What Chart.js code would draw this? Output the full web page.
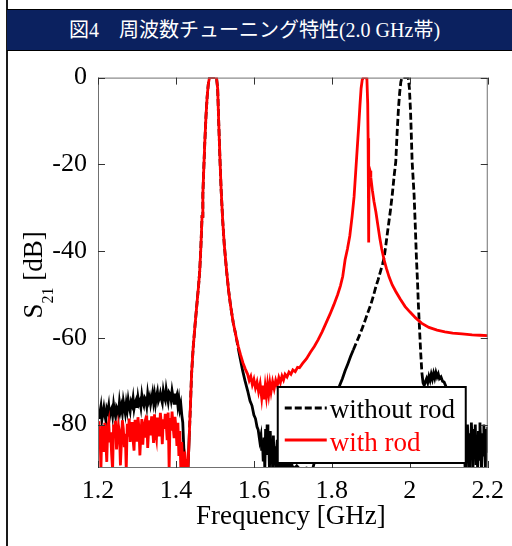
<!DOCTYPE html>
<html lang="ja">
<head>
<meta charset="UTF-8">
<title>図4 周波数チューニング特性</title>
<script src="https://cdn.jsdelivr.net/npm/chart.js"></script>
<style>
    body {
        margin: 0;
        width: 512px;
        height: 546px;
        overflow: hidden;
        background: #fff;
        position: relative;
    }
    #leftRule {
        position: absolute;
        left: 6px;
        top: 0;
        width: 2px;
        height: 546px;
        background: #1a1a1a;
    }
    #head {
        position: absolute;
        left: 7px;
        top: 9px;
        width: 495px;
        padding-right: 10px;
        height: 40px;
        line-height: 40px;
        background: #0b215f;
        border-top: 1px solid #000;
        border-bottom: 1px solid #000;
        color: #fff;
        text-align: center;
        font-size: 20px;
        font-family: "Liberation Serif", "Noto Sans CJK JP", serif;
        white-space: nowrap;
    }
    #chart {
        position: absolute;
        left: 9px;
        top: 51px;
    }
</style>
</head>
<body>
<div id="leftRule"></div>
<div id="head">図4　周波数チューニング特性(2.0 GHz帯)</div>
<canvas id="chart" width="503" height="495"></canvas>

<script>
// axis ticks
const xTicks = [1.2, 1.4, 1.6, 1.8, 2, 2.2];
const yTicks = [0, -20, -40, -60, -80];

// S21 without rod (black, dashed) - frequency [GHz]
const freqWithout = [
    1.2000, 1.2025, 1.2050, 1.2075, 1.2100, 1.2125, 1.2150, 1.2175, 1.2200, 1.2225,
    1.2250, 1.2275, 1.2300, 1.2325, 1.2350, 1.2375, 1.2400, 1.2425, 1.2450, 1.2475,
    1.2500, 1.2525, 1.2550, 1.2575, 1.2600, 1.2625, 1.2650, 1.2675, 1.2700, 1.2725,
    1.2750, 1.2775, 1.2800, 1.2825, 1.2850, 1.2875, 1.2900, 1.2925, 1.2950, 1.2975,
    1.3000, 1.3025, 1.3050, 1.3075, 1.3100, 1.3125, 1.3150, 1.3175, 1.3200, 1.3225,
    1.3250, 1.3275, 1.3300, 1.3325, 1.3350, 1.3375, 1.3400, 1.3425, 1.3450, 1.3475,
    1.3500, 1.3525, 1.3550, 1.3575, 1.3600, 1.3625, 1.3650, 1.3675, 1.3700, 1.3725,
    1.3750, 1.3775, 1.3800, 1.3825, 1.3850, 1.3875, 1.3900, 1.3925, 1.3950, 1.3975,
    1.4000, 1.4025, 1.4050, 1.4075, 1.4100, 1.4125, 1.4150,
    1.4175, 1.4200, 1.4225, 1.4250, 1.4280, 1.4310,
    1.4340, 1.4370, 1.4400, 1.4440, 1.4490, 1.4540, 1.4580, 1.4610, 1.4640, 1.4670,
    1.4690, 1.4710, 1.4740, 1.4770, 1.4800, 1.4830, 1.4860, 1.5040, 1.5070, 1.5100,
    1.5130, 1.5160, 1.5200, 1.5240, 1.5270, 1.5300, 1.5350, 1.5400, 1.5470, 1.5550,
    1.5600, 1.5650, 1.5710, 1.5770, 1.5840, 1.5900, 1.5950, 1.6000, 1.6040, 1.6080,
    1.6110, 1.6150,
    1.618, 1.620, 1.622, 1.624, 1.626, 1.628, 1.630, 1.632, 1.634, 1.636,
    1.638, 1.640, 1.642, 1.644, 1.646, 1.648, 1.650, 1.652, 1.654, 1.656,
    1.658, 1.660, 1.662, 1.664, 1.666, 1.668, 1.670, 1.672, 1.674, 1.676,
    1.678, 1.680, 1.682, 1.684, 1.686, 1.688, 1.690, 1.692, 1.694, 1.696,
    1.698, 1.700,
    1.7100, 1.7200, 1.7350, 1.7500, 1.7600, 1.7700, 1.7800, 1.7900, 1.7960, 1.8020,
    1.8080, 1.8140, 1.8200, 1.8270, 1.8340, 1.8410, 1.8480, 1.8550, 1.8620, 1.8700,
    1.8780, 1.8860, 1.8930, 1.9000, 1.9070, 1.9130, 1.9190, 1.9250, 1.9300, 1.9340,
    1.9380, 1.9420, 1.9460, 1.9500, 1.9550, 1.9600, 1.9640, 1.9660, 1.9680, 1.9710,
    1.9740, 1.9770, 1.9800, 1.9960, 1.9990, 2.0020, 2.0040, 2.0060, 2.0110, 2.0140,
    2.0170, 2.0200, 2.0220, 2.0250, 2.0280, 2.0310, 2.0340, 2.0370, 2.0400, 2.0430,
    2.0460, 2.0490, 2.0520, 2.0550, 2.0580, 2.0610, 2.0640, 2.0670, 2.0700, 2.0730,
    2.0760, 2.0800, 2.0840, 2.0880, 2.0920, 2.0960, 2.1000, 2.1080, 2.1160, 2.1240,
    2.1320,
    2.140, 2.142, 2.144, 2.146, 2.148, 2.150, 2.152, 2.154, 2.156, 2.158,
    2.160, 2.162, 2.164, 2.166, 2.168, 2.170, 2.172, 2.174, 2.176, 2.178,
    2.180, 2.182, 2.184, 2.186, 2.188, 2.190, 2.192, 2.194, 2.196, 2.198,
    2.200
];
// S21 without rod [dB]
const s21Without = [
    -78.4, -76.9, -77.2, -75.8, -78.9, -77.5, -76.1, -77.8, -79.0, -76.3,
    -77.0, -75.6, -78.1, -76.7, -76.2, -77.9, -75.4, -77.1, -78.2, -75.9,
    -76.4, -77.6, -74.9, -76.8, -75.7, -77.3, -74.6, -76.0, -77.4, -75.1,
    -76.6, -74.3, -75.8, -76.9, -74.8, -75.5, -73.9, -76.3, -75.0, -74.4,
    -76.1, -73.7, -75.2, -74.6, -76.0, -73.3, -74.9, -75.6, -73.8, -74.2,
    -75.7, -72.9, -74.5, -73.6, -75.3, -74.0, -72.7, -74.8, -73.1, -75.2,
    -73.5, -72.4, -74.6, -73.9, -72.8, -74.1, -75.0, -72.3, -73.7, -74.4,
    -71.9, -73.4, -74.7, -72.6, -73.0, -74.3, -72.2, -73.6, -75.1, -72.8,
    -74.0, -73.2, -75.6, -74.1, -76.4, -75.3, -77.8,
    -79.5, -85.0, -91.0, -88.0, -91.0, -90.0,
    -83.0, -76.0, -68.5, -62.5, -57.0, -52.0, -48.0, -44.6, -39.0, -32.0,
    -27.0, -22.0, -15.0, -9.0, -4.5, -1.5, 0, 0, -2.5, -11.0,
    -19.0, -26.0, -33.0, -38.5, -41.6, -44.6, -49.0, -52.5, -56.5, -60.0,
    -62.5, -64.8, -67.5, -69.8, -72.2, -74.5, -75.6, -77.8, -78.6, -80.5,
    -81.2, -83.8,
    -82.5, -86.0, -84.0, -88.5, -83.0, -90.5, -81.0, -87.0, -80.0, -85.5,
    -83.0, -90.5, -81.5, -88.0, -84.0, -90.5, -82.5, -89.0, -85.0, -90.5,
    -86.0, -83.5, -90.5, -87.0, -90.5, -85.0, -90.5, -88.0, -90.5, -86.5,
    -90.5, -89.0, -90.5, -87.5, -90.5, -89.5, -90.5, -88.5, -90.5, -90.5,
    -89.5, -90.5,
    -89.5, -90.5, -90.0, -90.5, -87.0, -84.5, -82.0, -79.0, -77.2, -76.0,
    -74.2, -72.8, -71.0, -69.4, -67.6, -66.0, -64.3, -62.8, -61.3, -59.6,
    -57.8, -55.8, -54.0, -52.3, -50.2, -48.2, -46.5, -44.6, -43.0, -41.6,
    -39.0, -36.2, -33.5, -30.8, -27.0, -22.5, -19.4, -15.5, -11.8, -7.0,
    -3.5, -1.0, 0, 0, -2.5, -8.0, -13.5, -19.4, -27.0, -34.0,
    -41.6, -47.5, -52.3, -58.0, -63.5, -68.0, -70.4, -71.0, -70.1, -69.4,
    -70.3, -68.9, -69.8, -68.4, -69.5, -68.2, -69.3, -68.0, -69.0, -68.3,
    -69.4, -69.0, -70.0, -70.2, -71.0, -72.5, -73.5, -77.0, -80.5, -83.5,
    -86.0,
    -85.0, -90.5, -81.0, -88.0, -80.0, -86.0, -90.5, -82.0, -87.0, -79.5,
    -84.0, -90.5, -81.0, -86.0, -80.0, -89.0, -83.0, -90.5, -81.5, -88.0,
    -79.5, -85.0, -90.5, -82.0, -87.0, -80.0, -84.5, -90.5, -81.0, -86.5,
    -80.5
];

// S21 with rod (red, solid) - frequency [GHz]
const freqWith = [
    1.2000, 1.2025, 1.2050, 1.2075, 1.2100, 1.2125, 1.2150, 1.2175, 1.2200, 1.2225,
    1.2250, 1.2275, 1.2300, 1.2325, 1.2350, 1.2375, 1.2400, 1.2425, 1.2450, 1.2475,
    1.2500, 1.2525, 1.2550, 1.2575, 1.2600, 1.2625, 1.2650, 1.2675, 1.2700, 1.2725,
    1.2750, 1.2775, 1.2800, 1.2825, 1.2850, 1.2875, 1.2900, 1.2925, 1.2950, 1.2975,
    1.3000, 1.3025, 1.3050, 1.3075, 1.3100, 1.3125, 1.3150, 1.3175, 1.3200, 1.3225,
    1.3250, 1.3275, 1.3300, 1.3325, 1.3350, 1.3375, 1.3400, 1.3425, 1.3450, 1.3475,
    1.3500, 1.3525, 1.3550, 1.3575, 1.3600, 1.3625, 1.3650, 1.3675, 1.3700, 1.3725,
    1.3750, 1.3775, 1.3800, 1.3825, 1.3850, 1.3875, 1.3900, 1.3925, 1.3950, 1.3975,
    1.4000, 1.4025, 1.4050, 1.4075, 1.4100, 1.4125, 1.4150, 1.4175, 1.4200, 1.4225,
    1.4250, 1.4275, 1.4310,
    1.4340, 1.4370, 1.4400, 1.4440, 1.4490, 1.4540, 1.4580, 1.4610, 1.4640, 1.4670,
    1.4690, 1.4710, 1.4740, 1.4770, 1.4800, 1.4830, 1.4860, 1.5040, 1.5070, 1.5100,
    1.5130, 1.5160, 1.5200, 1.5240, 1.5270, 1.5300, 1.5350, 1.5400, 1.5470, 1.5550,
    1.5600, 1.5660, 1.5720, 1.5780, 1.5840, 1.5880, 1.5920, 1.5960, 1.6000, 1.6040,
    1.6080, 1.6120, 1.6160, 1.6200, 1.6230, 1.6260, 1.6290, 1.6320, 1.6350, 1.6380,
    1.6410, 1.6440, 1.6480, 1.6520, 1.6560, 1.6600, 1.6640, 1.6680, 1.6720, 1.6760,
    1.6800, 1.6850, 1.6900, 1.6950, 1.7000, 1.7060, 1.7120, 1.7170, 1.7250, 1.7350,
    1.7450, 1.7550, 1.7650, 1.7750, 1.7850, 1.7950, 1.8050, 1.8150, 1.8220, 1.8280,
    1.8340, 1.8400, 1.8460, 1.8520, 1.8570, 1.8610, 1.8650, 1.8690, 1.8720, 1.8750,
    1.8780, 1.8810, 1.8880, 1.8900, 1.8920, 1.8930, 1.8940, 1.8945, 1.8950, 1.8955,
    1.8965, 1.8980, 1.9000, 1.9040, 1.9080, 1.9130, 1.9180, 1.9230, 1.9280, 1.9340,
    1.9400, 1.9470, 1.9550, 1.9640, 1.9750, 1.9880, 2.0000, 2.0150, 2.0300, 2.0490,
    2.0700, 2.0900, 2.1100, 2.1340, 2.1600, 2.1800, 2.2000
];
// S21 with rod [dB]
const s21With = [
    -79.2, -84.8, -81.0, -90.5, -80.1, -82.9, -86.3, -79.6, -83.7, -88.6,
    -80.5, -79.3, -84.1, -81.8, -86.9, -90.5, -80.0, -82.4, -79.1, -85.7,
    -83.0, -80.2, -81.6, -89.4, -84.3, -79.0, -80.9, -85.2, -82.1, -90.5,
    -79.8, -82.8, -78.6, -84.0, -81.3, -79.4, -83.6, -86.0, -78.9, -81.7,
    -83.9, -78.3, -80.6, -87.1, -82.2, -78.7, -84.6, -80.4, -79.5, -83.0,
    -77.9, -85.4, -81.2, -79.0, -82.5, -78.1, -80.8, -84.2, -77.6, -81.9,
    -83.3, -78.4, -80.3, -82.7, -77.3, -79.7, -84.5, -78.8, -81.0, -77.5,
    -79.9, -83.6, -77.2, -90.5, -78.5, -81.4, -77.0, -80.2, -82.8, -78.2,
    -80.7, -84.9, -79.6, -87.2, -81.5, -90.5, -84.0, -90.5, -86.2, -90.5,
    -88.4, -90.5, -90.0,
    -83.0, -76.0, -68.5, -62.5, -57.0, -52.0, -48.0, -44.6, -39.0, -32.0,
    -27.0, -22.0, -15.0, -9.0, -4.5, -1.5, 0, 0, -2.5, -11.0,
    -19.0, -26.0, -33.0, -38.5, -41.6, -44.6, -49.0, -52.5, -56.5, -60.0,
    -62.0, -64.0, -65.8, -67.2, -68.4, -69.8, -68.9, -70.8, -69.6, -71.5,
    -70.2, -72.4, -70.6, -73.8, -71.0, -74.2, -71.2, -73.5, -70.8, -73.0,
    -70.5, -72.4, -70.1, -71.7, -69.8, -71.0, -69.2, -70.3, -68.8, -69.7,
    -68.4, -69.0, -67.9, -68.4, -67.4, -67.8, -66.8, -66.9, -65.9, -64.8,
    -63.3, -62.0, -60.4, -58.6, -56.6, -54.6, -52.4, -50.0, -48.0, -45.8,
    -42.0, -39.5, -36.5, -32.0, -27.5, -22.0, -16.5, -11.0, -6.5, -2.5,
    -0.5, 0, 0, -0.5, -6.0, -14.0, -21.0, -38.0, -38.0, -22.0,
    -21.0, -21.5, -23.0, -26.0, -28.5, -31.0, -34.0, -37.0, -39.5, -42.0,
    -44.0, -46.0, -47.8, -49.3, -51.0, -52.8, -54.0, -55.4, -56.6, -57.6,
    -58.2, -58.6, -58.9, -59.1, -59.3, -59.4, -59.5
];

// stretches of the black trace that are noisy and look solid
const solidRanges = [[1.19, 1.432], [1.556, 1.855], [2.03, 2.21]];

function isSolid(f) {
    return solidRanges.some(r => f >= r[0] && f < r[1]);
}

function toPoints(fs, vs) {
    return fs.map((f, i) => ({ x: f, y: vs[i] }));
}

const serif = "'Liberation Serif', 'Times New Roman', serif";

// frame, inner ticks, legend box and axis titles
const decor = {
    id: 'decor',
    afterDatasetsDraw(chart) {
        const { ctx, chartArea: a, scales: { x, y } } = chart;
        ctx.save();

        ctx.strokeStyle = '#707070';
        ctx.lineWidth = 1;
        ctx.strokeRect(a.left + 0.5, a.top + 0.5, a.width - 1, a.height - 1);

        ctx.strokeStyle = '#333';
        ctx.beginPath();
        xTicks.forEach(v => {
            const px = Math.round(x.getPixelForValue(v)) + 0.5;
            ctx.moveTo(px, a.bottom); ctx.lineTo(px, a.bottom - 7);
            ctx.moveTo(px, a.top); ctx.lineTo(px, a.top + 7);
        });
        yTicks.forEach(v => {
            const py = Math.round(y.getPixelForValue(v)) + 0.5;
            ctx.moveTo(a.left, py); ctx.lineTo(a.left + 7, py);
            ctx.moveTo(a.right, py); ctx.lineTo(a.right - 7, py);
        });
        ctx.stroke();

        // legend
        const bx = a.right - 210, by = a.bottom - 81, bw = 188, bh = 76;
        ctx.fillStyle = '#fff';
        ctx.fillRect(bx, by, bw, bh);
        ctx.strokeStyle = '#000';
        ctx.lineWidth = 2;
        ctx.strokeRect(bx, by, bw, bh);

        ctx.lineWidth = 3;
        ctx.setLineDash([7, 3]);
        ctx.beginPath();
        ctx.moveTo(bx + 7, by + 21); ctx.lineTo(bx + 49, by + 21);
        ctx.stroke();
        ctx.setLineDash([]);
        ctx.strokeStyle = '#ff0000';
        ctx.beginPath();
        ctx.moveTo(bx + 7, by + 53); ctx.lineTo(bx + 49, by + 53);
        ctx.stroke();

        ctx.font = '27px ' + serif;
        ctx.textAlign = 'left';
        ctx.textBaseline = 'alphabetic';
        ctx.fillStyle = '#000';
        ctx.fillText('without rod', bx + 52, by + 31);
        ctx.fillStyle = '#ff0000';
        ctx.fillText('with rod', bx + 52, by + 64);

        // x title
        ctx.fillStyle = '#000';
        ctx.textAlign = 'center';
        ctx.fillText('Frequency [GHz]', (a.left + a.right) / 2 - 2, 473);

        // y title with subscript
        ctx.translate(33, (a.top + a.bottom) / 2 + 2);
        ctx.rotate(-Math.PI / 2);
        ctx.textAlign = 'left';
        const mainFont = '27px ' + serif, subFont = '16px ' + serif;
        ctx.font = mainFont;
        const w1 = ctx.measureText('S').width;
        const w3 = ctx.measureText(' [dB]').width;
        ctx.font = subFont;
        const w2 = ctx.measureText('21').width;
        const start = -(w1 + w2 + w3) / 2;
        ctx.font = mainFont;
        ctx.fillText('S', start, 0);
        ctx.fillText(' [dB]', start + w1 + w2, 0);
        ctx.font = subFont;
        ctx.fillText('21', start + w1, 11);

        ctx.restore();
    }
};

new Chart(document.getElementById('chart'), {
    type: 'line',
    data: {
        datasets: [
            {
                label: 'without rod',
                data: toPoints(freqWithout, s21Without),
                borderColor: '#000',
                borderWidth: 2.8,
                pointRadius: 0,
                tension: 0,
                order: 1,
                segment: {
                    borderDash: c => isSolid(c.p0.parsed.x) ? [] : [7, 3]
                }
            },
            {
                label: 'with rod',
                data: toPoints(freqWith, s21With),
                borderColor: '#ff0000',
                borderWidth: 2.8,
                pointRadius: 0,
                tension: 0,
                order: 0
            }
        ]
    },
    options: {
        responsive: false,
        animation: false,
        events: [],
        layout: { padding: { top: 24, right: 23, left: 0, bottom: 0 } },
        plugins: { legend: { display: false }, tooltip: { enabled: false } },
        scales: {
            x: {
                type: 'linear',
                min: 1.2,
                max: 2.2,
                afterFit: s => { s.height = 78; },
                afterBuildTicks: s => { s.ticks = xTicks.map(v => ({ value: v })); },
                grid: { display: false, drawTicks: false },
                border: { display: false },
                ticks: {
                    autoSkip: false,
                    maxRotation: 0,
                    padding: 8,
                    color: '#000',
                    font: { family: serif, size: 26 },
                    callback: v => String(v)
                }
            },
            y: {
                min: -90,
                max: 0,
                afterFit: s => { s.width = 89; },
                afterBuildTicks: s => { s.ticks = yTicks.map(v => ({ value: v })); },
                grid: { display: false, drawTicks: false },
                border: { display: false },
                ticks: {
                    padding: 11,
                    color: '#000',
                    font: { family: serif, size: 26 },
                    callback: v => String(v)
                }
            }
        }
    },
    plugins: [decor]
});
</script>
</body>
</html>
